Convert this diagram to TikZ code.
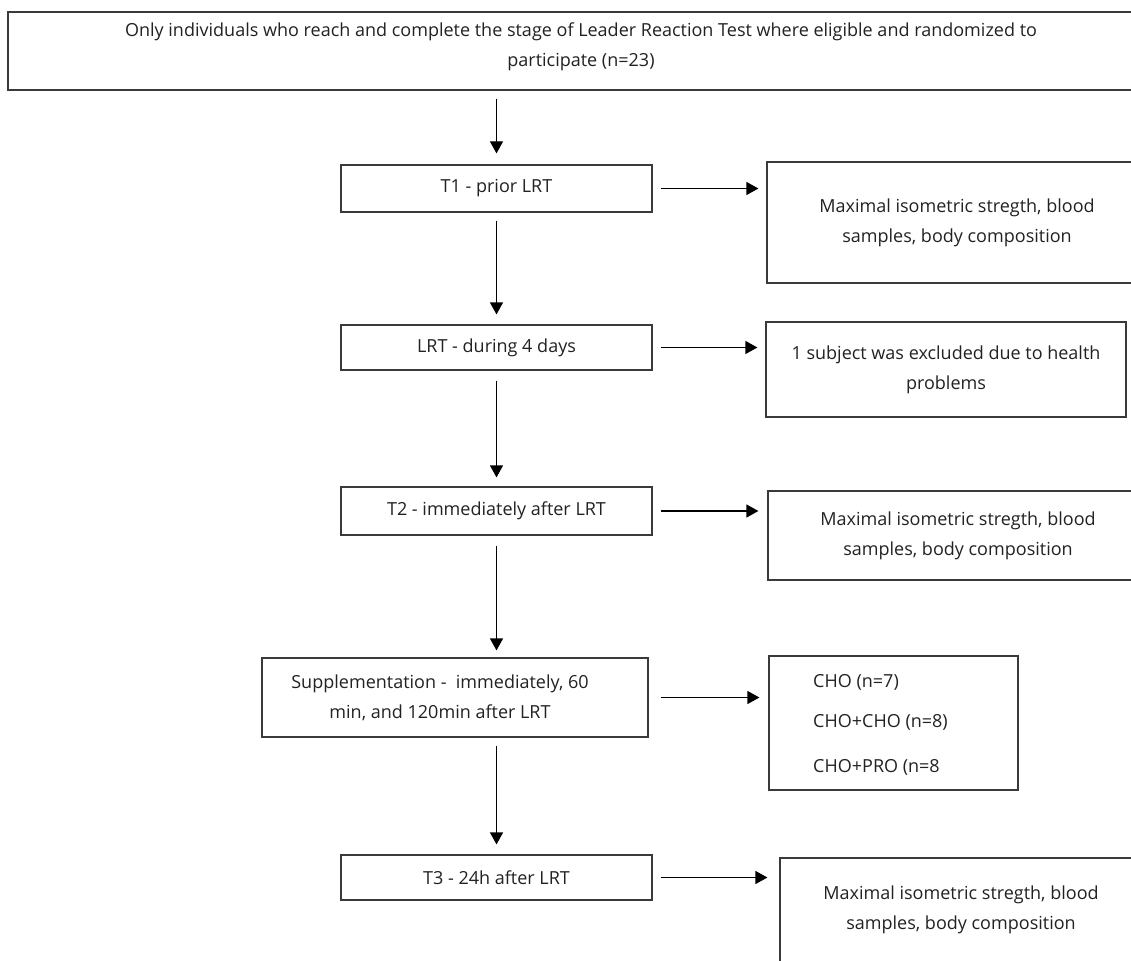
\documentclass[tikz,border=0pt]{standalone}
\usepackage{fontspec}
\setmainfont{Open Sans}
\usetikzlibrary{arrows.meta}
\definecolor{boxline}{HTML}{3A3A3A}
\definecolor{textcol}{HTML}{222222}
\newcommand\figfont{\fontsize{18}{30}\selectfont}
\begin{document}
\begin{tikzpicture}[x=1pt,y=-1pt,
  box/.style={draw=boxline, line width=1.2pt, inner sep=0pt, rectangle, align=center, font=\figfont, text=textcol},
  txt/.style={inner sep=0pt, align=center, font=\figfont, text=textcol},
  arr/.style={draw=black, line width=1.2pt, -{Triangle[length=12pt,width=13pt]}},
]
\useasboundingbox (0,0) rectangle (1131,960);
\fill[white] (0,0) rectangle (1131,960);

% left column
\node[box, minimum width=1146pt, minimum height=78pt] (top) at (581,51) {};
\node[txt] (toptxt) at (581,47) {Only individuals who reach and complete the stage of Leader Reaction Test where eligible and randomized to\\participate (n=23)};
\node[box, minimum width=311pt, minimum height=47pt] (t1) at (496.5,188.5) {T1 - prior LRT};
\node[box, minimum width=311pt, minimum height=45pt] (lrt) at (496.5,347.5) {LRT - during 4 days};
\node[box, minimum width=311pt, minimum height=48pt] (t2) at (496.5,511) {T2 - immediately after LRT};
\node[box, minimum width=386pt, minimum height=79pt] (sup) at (455,697.5) {};
\node[txt] (suptxt) at (440,698) {Supplementation -\ \ immediately, 60\\min, and 120min after LRT};
\node[box, minimum width=311pt, minimum height=45pt] (t3) at (496.5,877.5) {T3 - 24h after LRT};

% right column
\node[box, minimum width=380pt, minimum height=121pt] (r1) at (957,222.5) {Maximal isometric stregth, blood\\samples, body composition};
\node[box, minimum width=360pt, minimum height=95pt] (r2) at (946,369.5) {1 subject was excluded due to health\\problems};
\node[box, minimum width=380pt, minimum height=89pt] (r3) at (958,535.5) {Maximal isometric stregth, blood\\samples, body composition};
\node[box, minimum width=249pt, minimum height=134pt] (r4) at (893.5,723) {};
\node[txt, anchor=west] (c1) at (813,682) {CHO (n=7)};
\node[txt, anchor=west] (c2) at (813,722) {CHO+CHO (n=8)};
\node[txt, anchor=west] (c3) at (813,767) {CHO+PRO (n=8};
\node[box, minimum width=362pt, minimum height=104pt] (r5) at (961,910) {Maximal isometric stregth, blood\\samples, body composition};

% vertical arrows
\draw[arr, shorten <=8pt, shorten >=11pt] (top.south -| t1.north) -- (t1.north);
\draw[arr, shorten <=8pt, shorten >=10pt] (t1.south) -- (lrt.north);
\draw[arr, shorten <=10pt, shorten >=9pt] (lrt.south) -- (t2.north);
\draw[arr, shorten <=10pt, shorten >=7pt] (t2.south) -- (t2.south |- sup.north);
\draw[arr, shorten <=8pt, shorten >=10pt] (sup.south -| t3.north) -- (t3.north);

% horizontal arrows
\draw[arr, shorten <=8pt, shorten >=8pt] (t1.east) -- (t1.east -| r1.west);
\draw[arr, shorten <=8pt, shorten >=8pt] (lrt.east) -- (lrt.east -| r2.west);
\draw[arr, shorten <=8pt, shorten >=9pt] (t2.east) -- (t2.east -| r3.west);
\draw[arr, shorten <=12pt, shorten >=9pt] (sup.east) -- (sup.east -| r4.west);
\draw[arr, shorten <=8pt, shorten >=12pt] (t3.east) -- (t3.east -| r5.west);
\end{tikzpicture}
\end{document}
